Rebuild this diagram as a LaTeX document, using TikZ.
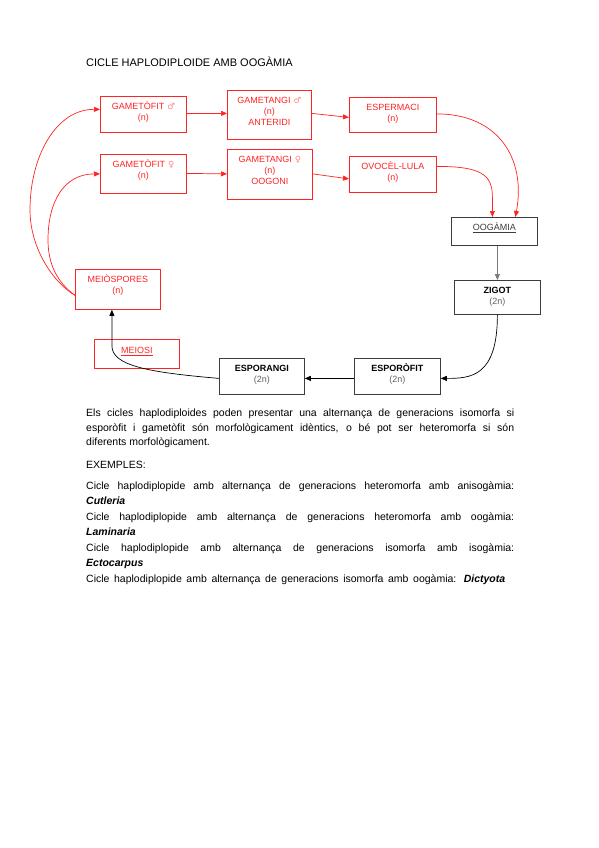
\documentclass[tikz,border=0pt]{standalone}
\usepackage{fontspec}
\setmainfont{Liberation Sans}
\newfontfamily\symfont{DejaVu Sans}
\usetikzlibrary{arrows.meta,calc}
\definecolor{rd}{RGB}{255,35,35}
\definecolor{dg}{RGB}{60,60,60}
\definecolor{gtxt}{RGB}{95,95,95}
\definecolor{ln}{RGB}{120,120,120}
\newcommand{\male}{{\symfont\color{rd!55!white}\scalebox{0.95}{♂}}}
\newcommand{\female}{{\symfont\color{rd!55!white}\scalebox{0.95}{♀}}}
\begin{document}
\begin{tikzpicture}[x=1pt,y=-1pt,
  box/.style={draw, line width=0.8pt, inner sep=0pt, anchor=north west, align=center,
    text height=13pt, font=\fontsize{9}{11.2}\selectfont},
  rbox/.style={box, draw=rd, text=rd},
  kbox/.style={box, draw=dg, text=black},
  rarr/.style={draw=rd, line width=0.7pt, -{Triangle[length=6pt,width=5pt]}},
  karr/.style={draw=black, line width=0.7pt, -{Triangle[length=6pt,width=5pt]}},
  para/.style={anchor=base west, text width=428pt, align=justify, inner sep=0pt,
    font=\fontsize{10.5}{14.5}\selectfont},
]
\useasboundingbox (0,0) rectangle (599,848);

% title
\node[anchor=base west, inner sep=0pt, font=\fontsize{11}{13}\selectfont] (title) at (86,67) {CICLE HAPLODIPLOIDE AMB OOGÀMIA};

% red boxes
\node[rbox, text width=86pt, text depth=23pt] (gm) at (100,96) {GAMETÒFIT \male\\(n)};
\node[rbox, text width=84pt, text depth=36pt] (tm) at (227,90) {GAMETANGI \male\\(n)\\ANTERIDI};
\node[rbox, text width=87pt, text depth=22pt] (esp) at (349,97) {ESPERMACI\\(n)};
\node[rbox, text width=86pt, text depth=26pt] (gf) at (100,154) {GAMETÒFIT \female\\(n)};
\node[rbox, text width=85pt, text depth=37pt] (tf) at (227,149) {GAMETANGI \female\\(n)\\OOGONI};
\node[rbox, text width=87pt, text depth=23pt] (ovo) at (349,156) {OVOCÈL-LULA\\(n)};
\node[rbox, text width=85pt, text depth=27pt] (mei) at (75,269) {MEIÒSPORES\\(n)};
\node[rbox, text width=85pt, text height=14.5pt, text depth=14.5pt] (meiosi) at (94,339) {\underline{MEIOSI}};

% black boxes
\node[kbox, text width=86pt, text depth=15pt, text=dg] (oog) at (451,217) {\underline{OOGÀMIA}};
\node[kbox, text width=86pt, text depth=21pt] (zig) at (454,280) {\textbf{ZIGOT}\\\textcolor{gtxt}{(2n)}};
\node[kbox, text width=86pt, text depth=23pt] (spf) at (354,358) {\textbf{ESPORÒFIT}\\\textcolor{gtxt}{(2n)}};
\node[kbox, text width=85pt, text depth=23pt] (spa) at (219,358) {\textbf{ESPORANGI}\\\textcolor{gtxt}{(2n)}};

% red connectors
\draw[rarr] ($(gm.east)+(0,-1)$) -- ($(tm.west)+(0,-1.5)$);
\draw[rarr] ($(tm.east)+(0,-1.5)$) -- ($(esp.west)+(0,2.5)$);
\draw[rarr] ($(gf.east)+(0,-0.5)$) -- ($(tf.west)+(0,-0.5)$);
\draw[rarr] ($(tf.east)+(0,-0.5)$) -- ($(ovo.west)+(0,4.5)$);
\draw[rarr] ($(esp.east)+(0,-1)$) .. controls ($(esp.east)+(60,-1)$) and ($(oog.north)+(32,-60)$) .. ($(oog.north)+(21,0)$);
\draw[rarr] ($(ovo.east)+(0,-8)$) .. controls ($(ovo.east)+(45,-8)$) and ($(oog.north)+(-2,-42)$) .. ($(oog.north)+(-2,-20)$) -- ($(oog.north)+(-2,0)$);
\coordinate (m1) at ($(mei.west)+(0,6)$);
\coordinate (wa) at (30,210);
\coordinate (wb) at (48,240);
\draw[rarr] (m1) .. controls (50,280) and (30,245) .. (wa) .. controls (30,155) and (57,109) .. ($(gm.west)+(0,-5)$);
\draw[rarr] (m1) .. controls (58,283) and (48,265) .. (wb) .. controls (48,200) and (65,174) .. ($(gf.west)+(0,0)$);

% black connectors
\draw[karr, draw=ln] (zig.north |- oog.south) -- (zig.north);
\draw[karr] (zig.south) .. controls ($(zig.south)+(0,62)$) and ($(spf.east)+(30,2)$) .. ($(spf.east)+(0,2)$);
\draw[karr] ($(spf.west)+(0,2)$) -- ($(spa.east)+(0,2)$);
\draw[karr] ($(spa.west)+(0,2)$) .. controls ($(spa.west)+(-70,-4)$) and ($(mei.south)+(-6,56)$) .. ($(mei.south)+(-6,36)$) -- ($(mei.south)+(-6,0)$);

% text
\node[para] (p1) at (86,416.5) {Els cicles haplodiploides poden presentar una alternança de generacions isomorfa si\linebreak esporòfit i gametòfit són morfològicament idèntics, o bé pot ser heteromorfa si són\linebreak diferents morfològicament.};
\node[para] (p2) at (86,468.5) {EXEMPLES:};
\node[para] (p3) at (86,489.5) {Cicle haplodiplopide amb alternança de generacions heteromorfa amb anisogàmia:\linebreak \textbf{\textit{Cutleria}}};
\node[para] (p4) at (86,520.5) {Cicle haplodiplopide amb alternança de generacions heteromorfa amb oogàmia:\linebreak \textbf{\textit{Laminaria}}};
\node[para] (p5) at (86,551.5) {Cicle haplodiplopide amb alternança de generacions isomorfa amb isogàmia:\linebreak \textbf{\textit{Ectocarpus}}};
\node[para] (p6) at (86,582.5) {\makebox[419pt][s]{Cicle haplodiplopide amb alternança de generacions isomorfa amb oogàmia: \textbf{\textit{Dictyota}}}};
\end{tikzpicture}
\end{document}
